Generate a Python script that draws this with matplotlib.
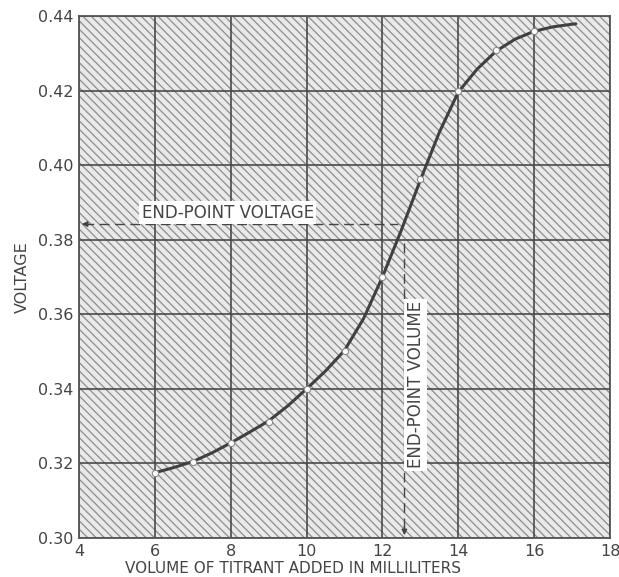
import matplotlib
matplotlib.use("Agg")
import matplotlib.pyplot as plt
from matplotlib.patches import Rectangle

# Measured points (markers)
volume_ml = [6, 7, 8, 9, 10, 11, 12, 13, 14, 15, 16]
voltage = [0.3175, 0.3205, 0.3255, 0.3312, 0.3400, 0.3502, 0.3700, 0.3963, 0.4198, 0.4308, 0.4360]

# Drawn titration curve
curve_x = [6, 6.5, 7, 7.5, 8, 8.5, 9, 9.5, 10, 10.5, 11, 11.5, 12, 12.5, 13, 13.5, 14, 14.5, 15, 15.5, 16, 16.5, 17, 17.1]
curve_y = [0.3175, 0.3189, 0.3205, 0.3228, 0.3255, 0.3284, 0.3314, 0.3354, 0.3400, 0.3448, 0.3503, 0.3588,
           0.3700, 0.3826, 0.3960, 0.4088, 0.4196, 0.4258, 0.4306, 0.4338, 0.4359, 0.4371, 0.4378, 0.4379]

end_point_voltage = 0.3842
end_point_volume = 12.58

x_ticks = [4, 6, 8, 10, 12, 14, 16, 18]
y_ticks = [0.30, 0.32, 0.34, 0.36, 0.38, 0.40, 0.42, 0.44]

ink = "#444444"
plt.rcParams['font.family'] = ['DejaVu Sans']
plt.rcParams['hatch.linewidth'] = 0.9

fig = plt.figure(figsize=(6.19, 5.77), dpi=100)
ax = fig.add_axes([79/619, 1-538/577, (610-79)/619, (538-16)/577])
ax.set_xlim(4, 18)
ax.set_ylim(0.30, 0.44)

# hatched scanned-look background
ax.set_facecolor("#e9e9e9")
bg = Rectangle((0, 0), 1, 1, transform=ax.transAxes, facecolor="none",
               edgecolor="#8c8c8c", hatch="\\\\\\\\", lw=0, zorder=0)
ax.add_patch(bg)

ax.set_xticks(x_ticks)
ax.set_yticks(y_ticks)
ax.set_xticklabels([str(t) for t in x_ticks])
ax.set_yticklabels([f"{t:.2f}" for t in y_ticks])
ax.tick_params(length=0, labelsize=11.5, colors=ink, pad=4)
ax.grid(True, color="#4a4a4a", lw=1.2, zorder=1)
for s in ax.spines.values():
    s.set_color("#555555")
    s.set_linewidth(1.3)

ax.plot(curve_x, curve_y, color="#404040", lw=2.2, zorder=4,
        solid_capstyle="round", solid_joinstyle="round")
ax.plot(volume_ml, voltage, linestyle="none", marker="o", ms=4.5,
        mfc="white", mec="#8a8a8a", mew=0.8, zorder=5)

# end-point voltage (horizontal dashed with arrow to axis)
ax.plot([4.12, 12.42], [end_point_voltage, end_point_voltage], color=ink,
        lw=1.0, dashes=(7, 4), zorder=3)
ax.annotate("", xy=(4.0, end_point_voltage), xytext=(4.3, end_point_voltage),
            arrowprops=dict(arrowstyle="-|>", color=ink, lw=1.0, mutation_scale=8), zorder=3)
ax.text(5.65, 0.3872, "END-POINT VOLTAGE", fontsize=12, color=ink, ha="left", va="center",
        bbox=dict(boxstyle="square,pad=0.15", fc="white", ec="none"), zorder=6)

# end-point volume (vertical dashed with arrow to axis)
ax.plot([end_point_volume, end_point_volume], [0.3790, 0.3025], color=ink,
        lw=1.0, dashes=(7, 4), zorder=3)
ax.annotate("", xy=(end_point_volume, 0.300), xytext=(end_point_volume, 0.304),
            arrowprops=dict(arrowstyle="-|>", color=ink, lw=1.0, mutation_scale=8), zorder=3)
ax.text(12.88, 0.3411, "END-POINT VOLUME", fontsize=12, color=ink, rotation=90,
        ha="center", va="center",
        bbox=dict(boxstyle="square,pad=0.15", fc="white", ec="none"), zorder=6)

ax.set_xlabel("VOLUME OF TITRANT ADDED IN MILLILITERS", fontsize=11, color=ink)
ax.xaxis.set_label_coords(0.403, -0.045)
ax.set_ylabel("VOLTAGE", fontsize=11.5, color=ink, labelpad=6)

fig.savefig("out.png", dpi=100, facecolor="white")
